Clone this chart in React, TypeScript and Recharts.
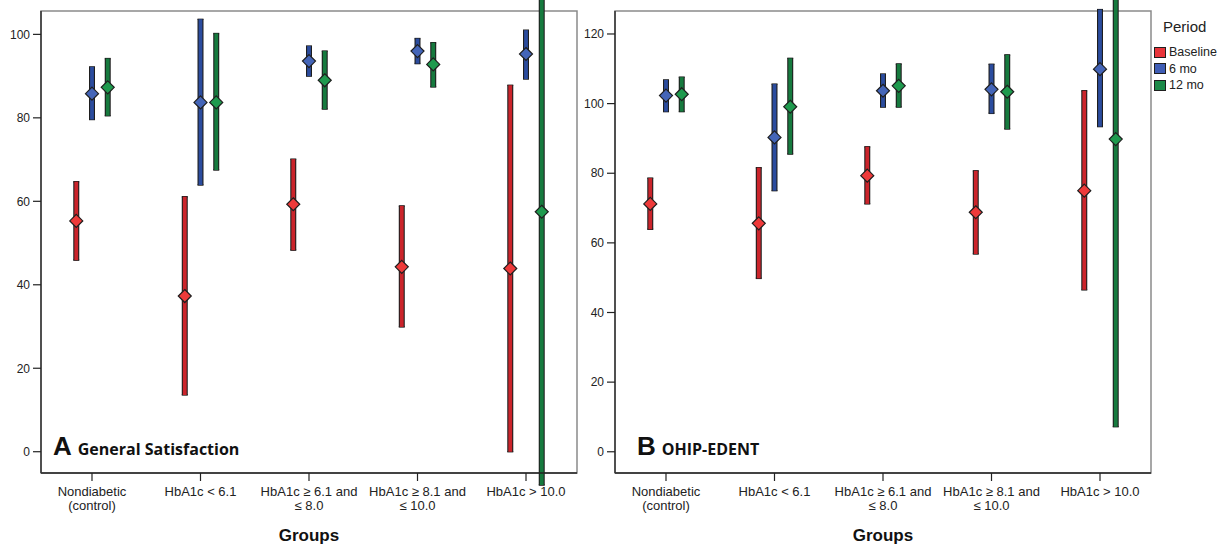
import {
  ComposedChart,
  ErrorBar,
  ReferenceArea,
  Scatter,
  XAxis,
  YAxis,
} from "recharts";

const groups = [
  ["Nondiabetic", "(control)"],
  ["HbA1c < 6.1"],
  ["HbA1c ≥ 6.1 and", "≤ 8.0"],
  ["HbA1c ≥ 8.1 and", "≤ 10.0"],
  ["HbA1c > 10.0"],
];
const periods = ["Baseline", "6 mo", "12 mo"];

// General Satisfaction: mean and 95% CI per group
const satBaselineMean = [55.3, 37.3, 59.3, 44.3, 43.9];
const satBaselineLow = [45.9, 13.6, 48.3, 29.9, 0.0];
const satBaselineHigh = [64.7, 61.1, 70.1, 58.9, 87.8];
const sat6Mean = [85.8, 83.7, 93.6, 96.0, 95.3];
const sat6Low = [79.6, 63.9, 90.0, 93.0, 89.3];
const sat6High = [92.2, 103.6, 97.2, 99.0, 101.0];
const sat12Mean = [87.3, 83.7, 89.0, 92.8, 57.5];
const sat12Low = [80.5, 67.5, 82.1, 87.4, -8.0];
const sat12High = [94.2, 100.2, 96.0, 98.0, 123.0];

// OHIP-EDENT: mean and 95% CI per group
const ohipBaselineMean = [71.2, 65.6, 79.3, 68.8, 75.0];
const ohipBaselineLow = [63.9, 49.8, 71.2, 56.8, 46.5];
const ohipBaselineHigh = [78.6, 81.6, 87.6, 80.7, 103.7];
const ohip6Mean = [102.3, 90.3, 103.7, 104.1, 109.9];
const ohip6Low = [97.7, 75.0, 99.0, 97.2, 93.4];
const ohip6High = [106.8, 105.6, 108.5, 111.3, 127.0];
const ohip12Mean = [102.7, 99.1, 105.1, 103.4, 89.8];
const ohip12Low = [97.7, 85.5, 99.0, 92.7, 7.2];
const ohip12High = [107.6, 113.0, 111.4, 114.0, 172.0];

const satTicks = [0, 20, 40, 60, 80, 100];
const ohipTicks = [0, 20, 40, 60, 80, 100, 120];

const barColors = ["#cb242b", "#2b4c9e", "#167a3e"];
const pointColors = ["#ee3a3a", "#4465b8", "#1f9a4e"];
const swatchColors = ["#e8343a", "#3f5db5", "#1b8a48"];
const OUTLINE = "#1e1e1e";

const X_MIN = -0.47;
const X_MAX = 4.47;
const DODGE = 0.145;

type Series = { mean: number[]; low: number[]; high: number[] };

const buildRows = (s: Series, periodIndex: number) =>
  s.mean.map((m, i) => ({
    x: i + (periodIndex - 1) * DODGE,
    y: m,
    err: [m - s.low[i], s.high[i] - m],
  }));

const Diamond = (props: any) => {
  const { cx, cy, fill } = props;
  if (cx == null || cy == null) return <g />;
  const r = 6.5;
  return (
    <polygon
      points={`${cx},${cy - r} ${cx + r},${cy} ${cx},${cy + r} ${cx - r},${cy}`}
      fill={fill}
      stroke={OUTLINE}
      strokeWidth={1.2}
    />
  );
};

const GroupTick = (props: any) => {
  const { x, y, payload } = props;
  const lines = groups[payload.value] ?? [];
  return (
    <text x={x} y={y} textAnchor="middle" fontSize={13} fill="#222">
      {lines.map((line, i) => (
        <tspan key={line} x={x} dy={i === 0 ? 13 : 13.5}>
          {line}
        </tspan>
      ))}
    </text>
  );
};

type PanelProps = {
  series: Series[];
  yMin: number;
  yMax: number;
  ticks: number[];
  width: number;
  rightMargin: number;
  yAxisWidth: number;
  letter: string;
  title: string;
  labelInset: number;
};

const Panel = ({
  series,
  yMin,
  yMax,
  ticks,
  width,
  rightMargin,
  yAxisWidth,
  letter,
  title,
  labelInset,
}: PanelProps) => {
  const rows = series.map((s, p) => buildRows(s, p));

  return (
    <ComposedChart
      width={width}
      height={547}
      margin={{ top: 11, right: rightMargin, bottom: 0, left: 0 }}
    >
      <XAxis
        dataKey="x"
        type="number"
        domain={[X_MIN, X_MAX]}
        allowDataOverflow
        ticks={[0, 1, 2, 3, 4]}
        tick={<GroupTick />}
        tickSize={8}
        height={74}
        axisLine={{ stroke: "#222", strokeWidth: 1.5 }}
        tickLine={{ stroke: "#222", strokeWidth: 1.2 }}
        label={{
          value: "Groups",
          position: "insideBottom",
          offset: 6,
          style: { fontSize: 17, fontWeight: "bold", fill: "#111" },
        }}
      />
      <YAxis
        type="number"
        domain={[yMin, yMax]}
        allowDataOverflow
        ticks={ticks}
        width={yAxisWidth}
        tickSize={8}
        tickMargin={3}
        tick={{ fontSize: 12, fill: "#222" }}
        axisLine={{ stroke: "#333", strokeWidth: 1.5 }}
        tickLine={{ stroke: "#222", strokeWidth: 1.2 }}
      />
      <ReferenceArea
        x1={X_MIN}
        x2={X_MAX}
        y1={yMin}
        y2={yMax}
        fill="none"
        stroke="#8a8a8a"
        strokeWidth={1.5}
        label={(lp: any) => {
          const vb = lp.viewBox;
          return (
            <text
              x={vb.x + labelInset}
              y={vb.y + vb.height - 18}
              fill="#111"
              fontWeight="bold"
            >
              <tspan fontSize={26} fontFamily="'Liberation Sans', Arial">
                {letter}
              </tspan>
              <tspan fontSize={16} dx={6} fontFamily="'Open Sans'">
                {title}
              </tspan>
            </text>
          );
        }}
      />
      {rows.map((data, p) => (
        <Scatter
          key={`bar-${periods[p]}`}
          data={data}
          dataKey="y"
          shape={() => <g />}
          isAnimationActive={false}
        >
          {/* dark outline, then thin end caps, then the coloured core */}
          <ErrorBar
            dataKey="err"
            direction="y"
            width={0}
            stroke={OUTLINE}
            strokeWidth={6}
            isAnimationActive={false}
          />
          <ErrorBar
            dataKey="err"
            direction="y"
            width={3}
            stroke={OUTLINE}
            strokeWidth={1.4}
            isAnimationActive={false}
          />
          <ErrorBar
            dataKey="err"
            direction="y"
            width={0}
            stroke={barColors[p]}
            strokeWidth={3.8}
            isAnimationActive={false}
          />
        </Scatter>
      ))}
      {rows.map((data, p) => (
        <Scatter
          key={`mean-${periods[p]}`}
          data={data}
          dataKey="y"
          fill={pointColors[p]}
          shape={<Diamond />}
          isAnimationActive={false}
        />
      ))}
    </ComposedChart>
  );
};

export default function App() {
  const satSeries: Series[] = [
    { mean: satBaselineMean, low: satBaselineLow, high: satBaselineHigh },
    { mean: sat6Mean, low: sat6Low, high: sat6High },
    { mean: sat12Mean, low: sat12Low, high: sat12High },
  ];
  const ohipSeries: Series[] = [
    { mean: ohipBaselineMean, low: ohipBaselineLow, high: ohipBaselineHigh },
    { mean: ohip6Mean, low: ohip6Low, high: ohip6High },
    { mean: ohip12Mean, low: ohip12Low, high: ohip12High },
  ];

  return (
    <div
      style={{
        position: "absolute",
        left: 0,
        top: 0,
        width: 1229,
        height: 547,
        background: "#fff",
        fontFamily: "'Liberation Sans', Arial, sans-serif",
      }}
    >
      <div style={{ position: "absolute", left: 0, top: 0 }}>
        <Panel
          series={satSeries}
          yMin={-5.1}
          yMax={105.6}
          ticks={satTicks}
          width={578}
          rightMargin={1}
          yAxisWidth={41}
          letter="A"
          title="General Satisfaction"
          labelInset={12}
        />
      </div>
      <div style={{ position: "absolute", left: 578, top: 0 }}>
        <Panel
          series={ohipSeries}
          yMin={-6.1}
          yMax={126.6}
          ticks={ohipTicks}
          width={651}
          rightMargin={78}
          yAxisWidth={37}
          letter="B"
          title="OHIP-EDENT"
          labelInset={22}
        />
      </div>

      <div style={{ position: "absolute", left: 1163, top: 18 }}>
        <div style={{ fontSize: 15, color: "#222", lineHeight: "18px" }}>
          Period
        </div>
      </div>
      <div
        style={{
          position: "absolute",
          left: 1154,
          top: 44,
          display: "flex",
          flexDirection: "column",
        }}
      >
        {periods.map((name, p) => (
          <div
            key={name}
            style={{
              display: "flex",
              alignItems: "center",
              height: 16.5,
              gap: 3,
            }}
          >
            <div
              style={{
                width: 10,
                height: 9,
                background: swatchColors[p],
                border: `1px solid ${OUTLINE}`,
              }}
            />
            <span style={{ fontSize: 12.5, color: "#222" }}>{name}</span>
          </div>
        ))}
      </div>
    </div>
  );
}
